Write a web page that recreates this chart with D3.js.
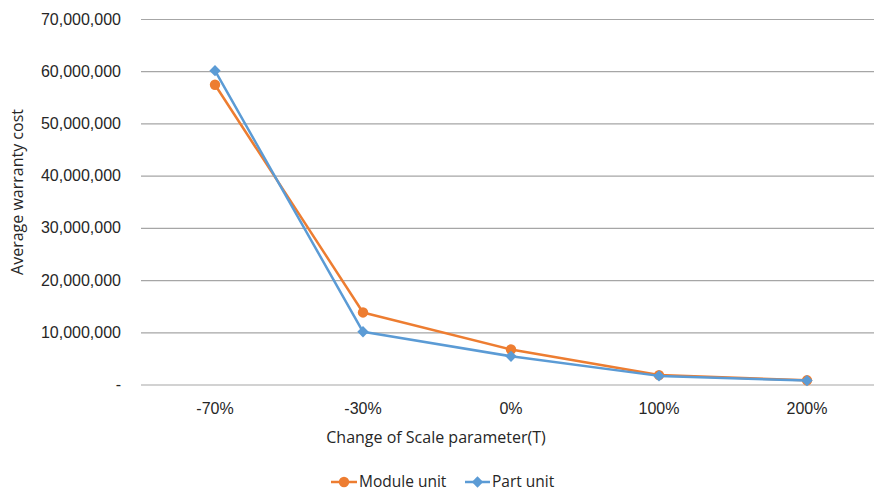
<!DOCTYPE html>
<html>
<head>
<meta charset="utf-8">
<script src="https://cdn.jsdelivr.net/npm/d3@7"></script>
<style>
  html, body { margin: 0; padding: 0; background: #fff; }
  svg { display: block; font-family: "Open Sans", "Noto Sans", sans-serif; }
</style>
</head>
<body>
<svg id="chart" width="874" height="492"></svg>
<script>
// Categories along the x axis (change of the scale parameter T)
const categories = ["-70%", "-30%", "0%", "100%", "200%"];
// Average warranty cost for each unit type
const moduleUnit = [57400000, 13800000, 6700000, 1800000, 800000];
const partUnit   = [60100000, 10100000, 5400000, 1650000, 750000];
// Y tick values
const yTicks = [0, 10000000, 20000000, 30000000, 40000000, 50000000, 60000000, 70000000];

const seriesList = [
  { name: "Module unit", values: moduleUnit, color: "#ED7D31", marker: "circle" },
  { name: "Part unit",   values: partUnit,   color: "#5B9BD5", marker: "diamond" }
];

const svg = d3.select("#chart");
const plotLeft = 141, plotRight = 881, plotTop = 19, plotBottom = 384.5;

const x = d3.scaleBand().domain(categories).range([plotLeft, plotRight]);
const y = d3.scaleLinear().domain([0, 70000000]).range([plotBottom, plotTop]);
const cx = c => x(c) + x.bandwidth() / 2;

const fmt = d3.format(",");
const textColor = "#262626";

// Horizontal gridlines and y tick labels
const yAxis = d3.axisLeft(y)
  .tickValues(yTicks)
  .tickSize(-(plotRight - plotLeft))
  .tickFormat(v => v === 0 ? "-" : fmt(v));
const gy = svg.append("g").attr("transform", `translate(${plotLeft},0)`).call(yAxis);
gy.select(".domain").remove();
gy.selectAll(".tick line").attr("stroke", "#A6A6A6").attr("stroke-width", 1.2);
gy.selectAll(".tick text")
  .attr("fill", textColor)
  .attr("font-size", 16)
  .attr("x", 121 - plotLeft)
  .attr("text-anchor", "end");

// X tick labels
const xAxis = d3.axisBottom(x).tickSize(0).tickPadding(18);
const gx = svg.append("g").attr("transform", `translate(0,${plotBottom})`).call(xAxis);
gx.select(".domain").remove();
gx.selectAll(".tick text").attr("fill", textColor).attr("font-size", 16);

// Axis titles
svg.append("text")
  .attr("x", 436).attr("y", 443)
  .attr("text-anchor", "middle")
  .attr("fill", textColor).attr("font-size", 16)
  .text("Change of Scale parameter(T)");

svg.append("text")
  .attr("transform", "translate(23,192) rotate(-90)")
  .attr("text-anchor", "middle")
  .attr("fill", textColor).attr("font-size", 16)
  .text("Average warranty cost");

// Lines and markers
const line = d3.line().x((d, i) => cx(categories[i])).y(d => y(d));
// Diamond marker: a square turned 45 degrees
const square = d3.symbol().type(d3.symbolSquare).size(64);
const circle = d3.symbol().type(d3.symbolCircle).size(85);
const markerPath = m => m === "circle" ? circle() : square();
const markerRot = m => m === "circle" ? "" : " rotate(45)";

seriesList.forEach(s => {
  svg.append("path")
    .datum(s.values)
    .attr("d", line)
    .attr("fill", "none")
    .attr("stroke", s.color)
    .attr("stroke-width", 2.5)
    .attr("stroke-linejoin", "round");
  svg.append("g").selectAll("path")
    .data(s.values)
    .join("path")
    .attr("transform", (d, i) => `translate(${cx(categories[i])},${y(d)})${markerRot(s.marker)}`)
    .attr("d", markerPath(s.marker))
    .attr("fill", s.color);
});

// Legend
const legendItems = [
  { s: seriesList[0], x0: 331, x1: 357, tx: 359 },
  { s: seriesList[1], x0: 465, x1: 490, tx: 492 }
];
const ly = 482;
legendItems.forEach(it => {
  const g = svg.append("g");
  g.append("line")
    .attr("x1", it.x0).attr("x2", it.x1)
    .attr("y1", ly).attr("y2", ly)
    .attr("stroke", it.s.color).attr("stroke-width", 2.5);
  g.append("path")
    .attr("transform", `translate(${(it.x0 + it.x1) / 2},${ly})${markerRot(it.s.marker)}`)
    .attr("d", markerPath(it.s.marker))
    .attr("fill", it.s.color);
  g.append("text")
    .attr("x", it.tx).attr("y", ly)
    .attr("dy", "0.3em")
    .attr("fill", textColor).attr("font-size", 15.5)
    .text(it.s.name);
});
</script>
</body>
</html>
